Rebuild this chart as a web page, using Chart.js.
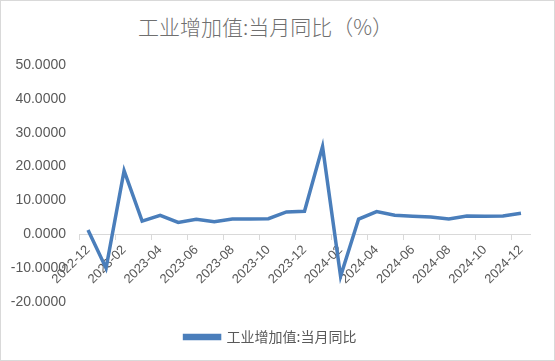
<!DOCTYPE html>
<html>
<head>
<meta charset="utf-8">
<script src="https://cdn.jsdelivr.net/npm/chart.js@4"></script>
<style>
  html, body { margin: 0; padding: 0; background: #fff; }
  #wrap { width: 553px; height: 359px; border: 1px solid #d9d9d9; position: relative; }
  #title { position: absolute; left: 0; width: 529px; top: 10px; text-align: center;
           font: 300 21px "Noto Sans CJK SC", sans-serif; color: #6f6f6f; }
  #box { position: absolute; left: 0; top: 0; width: 553px; height: 359px; }
</style>
</head>
<body>
<div id="wrap">
  <div id="title">工业增加值:当月同比（%）</div>
  <div id="box"><canvas id="chart"></canvas></div>
</div>
<script>
const months = [
  '2022-12', '2023-01', '2023-02', '2023-03', '2023-04', '2023-05', '2023-06',
  '2023-07', '2023-08', '2023-09', '2023-10', '2023-11', '2023-12',
  '2024-01', '2024-02', '2024-03', '2024-04', '2024-05', '2024-06',
  '2024-07', '2024-08', '2024-09', '2024-10', '2024-11', '2024-12'
];
const yoy = [
  1.3, -10.0, 18.8, 3.9, 5.6, 3.5, 4.4,
  3.7, 4.5, 4.5, 4.6, 6.6, 6.8,
  25.9, -12.4, 4.5, 6.7, 5.6, 5.3,
  5.1, 4.5, 5.4, 5.3, 5.4, 6.2
];
const seriesName = '工业增加值:当月同比';

const grey = '#595959';
const blue = '#4a7ebb';

new Chart(document.getElementById('chart'), {
  type: 'line',
  data: {
    labels: months,
    datasets: [{
      label: seriesName,
      data: yoy,
      borderColor: blue,
      backgroundColor: blue,
      borderWidth: 3.5,
      pointRadius: 0,
      tension: 0
    }]
  },
  options: {
    responsive: true,
    maintainAspectRatio: false,
    animation: false,
    layout: { padding: { top: 64, left: 10, right: 24, bottom: 6 } },
    plugins: {
      legend: {
        position: 'bottom',
        labels: {
          boxWidth: 35,
          boxHeight: 3,
          padding: 28,
          color: grey,
          font: { family: '"Noto Sans CJK SC", sans-serif', size: 14 }
        }
      },
      tooltip: { enabled: false }
    },
    scales: {
      x: {
        position: { y: 0 },
        offset: true,
        // let the slanted labels hang over the y labels, as in the original
        afterFit: scale => { scale.paddingLeft = 0; scale.paddingRight = 0; },
        grid: {
          offset: true,
          drawOnChartArea: false,
          tickLength: 5,
          color: ctx => (ctx.index % 2 === 0 ? '#d9d9d9' : 'rgba(0,0,0,0)')
        },
        border: { color: '#d9d9d9' },
        ticks: {
          autoSkip: false,
          maxRotation: 45,
          minRotation: 45,
          color: grey,
          font: { family: '"Liberation Sans", sans-serif', size: 13 },
          callback: function (v, i) { return i % 2 === 0 ? this.getLabelForValue(v) : ''; }
        }
      },
      y: {
        min: -20,
        max: 50,
        afterFit: scale => { scale.width = 68; },
        grid: { display: false, drawTicks: false },
        border: { display: false },
        ticks: {
          stepSize: 10,
          padding: 13,
          color: grey,
          font: { family: '"Liberation Sans", sans-serif', size: 14 },
          callback: v => v.toFixed(4)
        }
      }
    }
  }
});
</script>
</body>
</html>
